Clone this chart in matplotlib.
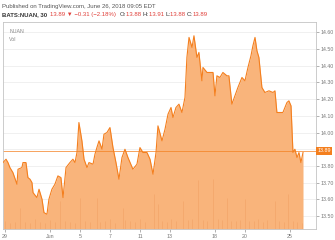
import matplotlib
matplotlib.use("Agg")
import matplotlib.pyplot as plt
import numpy as np

t = [-0.13, 0.07, 0.2, 0.33, 0.53, 0.8, 0.87, 1.13, 1.2, 1.4, 1.53, 1.67, 1.8, 1.87,
     2.13, 2.27, 2.47, 2.6, 2.8, 2.93, 3.13, 3.33, 3.53, 3.73, 3.87, 4.07, 4.33, 4.53,
     4.67, 4.8, 4.93, 5.13, 5.27, 5.47, 5.6, 5.87, 6.0, 6.13, 6.27, 6.47, 6.6, 6.8,
     7.0, 7.2, 7.4, 7.6, 7.8, 8.0, 8.2, 8.53, 8.8, 9.0, 9.2, 9.47, 9.67, 9.87, 10.07,
     10.2, 10.47, 10.67, 10.87, 11.07, 11.2, 11.4, 11.6, 11.8, 12.0, 12.13, 12.27,
     12.47, 12.6, 12.8, 12.93, 13.13, 13.2, 13.47, 13.67, 13.87, 14.0, 14.13, 14.33,
     14.53, 14.8, 14.93, 15.13, 15.33, 15.53, 15.8, 16.0, 16.2, 16.4, 16.53, 16.67,
     16.8, 16.93, 17.13, 17.33, 17.6, 17.87, 18.0, 18.13, 18.4, 18.53, 18.8, 18.93,
     19.07, 19.2, 19.33, 19.47, 19.6, 19.73, 19.87]
price = [13.82, 13.84, 13.82, 13.79, 13.76, 13.69, 13.78, 13.79, 13.82, 13.82, 13.73,
         13.72, 13.70, 13.64, 13.61, 13.66, 13.60, 13.52, 13.51, 13.60, 13.66, 13.69,
         13.74, 13.73, 13.61, 13.79, 13.82, 13.84, 13.82, 13.88, 14.06, 13.95, 13.84,
         13.79, 13.82, 13.81, 13.87, 13.91, 13.95, 13.90, 13.99, 14.00, 14.03, 13.91,
         13.82, 13.72, 13.85, 13.90, 13.85, 13.78, 13.81, 13.91, 13.88, 13.88, 13.84,
         13.75, 13.88, 14.04, 13.95, 14.02, 14.11, 14.15, 14.09, 14.15, 14.17, 14.12,
         14.21, 14.45, 14.57, 14.51, 14.58, 14.45, 14.48, 14.31, 14.39, 14.36, 14.36,
         14.36, 14.22, 14.34, 14.33, 14.36, 14.34, 14.34, 14.17, 14.22, 14.27, 14.33,
         14.31, 14.39, 14.46, 14.52, 14.57, 14.49, 14.45, 14.27, 14.24, 14.25, 14.24,
         14.25, 14.12, 14.12, 14.12, 14.18, 14.19, 14.16, 13.88, 13.90, 13.85, 13.88,
         13.82, 13.88]
last_price = 13.89

# volume (thousand shares), sampled every third of a day
vol_t = [0.0, 0.33, 0.67, 1.0, 1.33, 1.67, 2.0, 2.33, 2.67, 3.0, 3.33, 3.67, 4.0,
         4.33, 4.67, 5.0, 5.33, 5.67, 6.13, 6.33, 6.67, 7.0, 7.33, 7.87, 8.0, 8.33,
         8.67, 9.0, 9.33, 9.93, 10.2, 10.5, 10.8, 11.1, 11.4, 11.87, 12.2, 12.5,
         12.87, 13.2, 13.5, 13.87, 14.2, 14.5, 14.8, 15.1, 15.4, 15.7, 16.0, 16.3,
         16.6, 16.9, 17.2, 17.5, 18.0, 18.3, 18.6, 18.87, 19.2, 19.5, 19.8]
vol = [160, 120, 140, 420, 150, 130, 200, 140, 120, 180, 150, 560, 170, 140, 130,
       620, 160, 140, 620, 150, 170, 200, 130, 420, 180, 160, 140, 200, 150, 700,
       500, 170, 150, 200, 160, 560, 180, 200, 1000, 190, 170, 1020, 200, 180, 620,
       170, 160, 180, 600, 170, 160, 200, 150, 180, 560, 160, 150, 700, 170, 150, 130]

day_ticks = [0, 3, 5, 7, 9, 11, 14, 16, 19]
day_labels = ['29', 'Jun', '5', '7', '11', '13', '18', '20', '25']
price_ticks = [13.50, 13.60, 13.70, 13.80, 14.00, 14.10, 14.20, 14.30, 14.40, 14.50, 14.60]

orange = '#f47f1e'
fill_col = '#f9b47b'
grid_col = '#eeeeee'
txt_col = '#777777'
plt.rcParams['font.family'] = ['Liberation Sans', 'DejaVu Sans']

fig = plt.figure(figsize=(3.35, 2.40), dpi=100)
ax = fig.add_axes([0.009, 0.046, 0.934, 0.862])
ymin, ymax = 13.422, 14.662
ax.set_ylim(ymin, ymax)
ax.set_xlim(-0.13, 20.73)

for p in price_ticks + [13.90]:
    ax.axhline(p, color=grid_col, lw=0.6, zorder=0)

ax.fill_between(t, price, ymin, color=fill_col, lw=0, zorder=1)

# volume on its own scale
axv = ax.twinx()
axv.set_ylim(0, 4200)
axv.vlines(vol_t, 0, vol, color='#ee9c5c', lw=0.6, alpha=0.5, zorder=2)
axv.set_yticks([])
axv.axis('off')

ax.plot(t, price, color=orange, lw=0.8, zorder=3)
ax.axhline(last_price, color=orange, lw=0.5, zorder=2)

ax.yaxis.tick_right()
ax.set_yticks(price_ticks)
ax.set_yticklabels(['%.2f' % p for p in price_ticks])
ax.set_xticks(day_ticks)
ax.set_xticklabels(day_labels)
ax.tick_params(axis='both', labelsize=3.8, colors=txt_col, length=2, width=0.4, pad=1.5)
for s in ax.spines.values():
    s.set_color('#c4c4c4')
    s.set_linewidth(0.6)

ax.text(1.005, last_price, '%.2f' % last_price, transform=ax.get_yaxis_transform(),
        fontsize=3.8, color='white', va='center', ha='left', zorder=5,
        bbox=dict(boxstyle='square,pad=0.25', fc=orange, ec='none'), clip_on=False)

ax.text(0.02, 0.955, 'NUAN', transform=ax.transAxes, fontsize=3.8, color='#888888', va='center')
ax.text(0.02, 0.915, 'Vol', transform=ax.transAxes, fontsize=3.8, color='#888888', va='center')

# header
fig.text(0.006, 0.985, 'Published on TradingView.com, June 26, 2018 09:05 EDT',
         fontsize=4.3, color='#555555', va='top')

pieces = [('BATS:NUAN, 30  ', '#333333'), ('13.89 \u25bc \u22120.31 (\u22122.18%)  ', '#e0403a'),
          ('O:', '#333333'), ('13.88 ', '#e0403a'), ('H:', '#333333'), ('13.91 ', '#e0403a'),
          ('L:', '#333333'), ('13.88 ', '#e0403a'), ('C:', '#333333'), ('13.89', '#e0403a')]
fig.canvas.draw()
r = fig.canvas.get_renderer()
x = 0.006
for s, c in pieces:
    tx = fig.text(x, 0.948, s, fontsize=4.3, color=c, va='top',
                  fontweight='bold' if s.startswith('BATS') else 'normal')
    bb = tx.get_window_extent(renderer=r)
    x += bb.width / fig.bbox.width

fig.savefig('out.png', dpi=100)
